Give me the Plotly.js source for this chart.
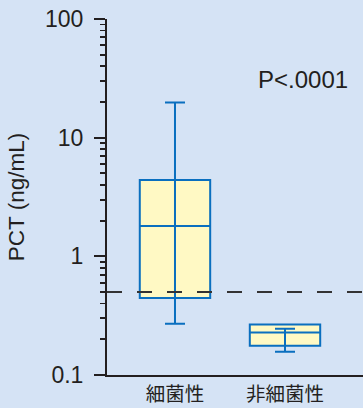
<!DOCTYPE html>
<html>
<head>
<meta charset="utf-8">
<script src="https://cdn.plot.ly/plotly-3.0.1.min.js"></script>
<style>html,body{margin:0;padding:0;background:#d5e3f5;}#chart{width:363px;height:408px;}</style>
</head>
<body>
<div id="chart"></div>
<script>
// ---- data ----
const categories = ['細菌性', '非細菌性'];
const lowerWhisker = [0.27, 0.157];
const q1Values = [0.445, 0.176];
const medianValues = [1.8, 0.228];
const q3Values = [4.4, 0.267];
const upperWhisker = [19.8, 0.245];
const cutoffValue = 0.5;
const pValueLabel = 'P<.0001';
const yTickVals = [0.1, 1, 10, 100];
const yTickText = ['0.1', '1', '10', '100'];
const yTitle = 'PCT (ng/mL)';

// ---- styles ----
const bg = '#d5e3f5';
const ink = '#231f20';
const blue = '#0a6fbf';
const boxFill = '#fff9c4';
const font = 'Liberation Sans, Arial, "Noto Sans CJK JP", sans-serif';
const xRange = [-0.618, 1.709];

const xPos = categories.map((c, i) => i);

const minorVals = [];
[0.1, 1, 10].forEach(d => { for (let k = 2; k <= 9; k++) minorVals.push(d * k); });

const boxTrace = {
  type: 'box',
  x: xPos,
  q1: q1Values,
  median: medianValues,
  q3: q3Values,
  lowerfence: q1Values,
  upperfence: q3Values,
  width: 0.64,
  whiskerwidth: 0,
  boxpoints: false,
  fillcolor: boxFill,
  line: {color: blue, width: 2},
  hoverinfo: 'skip',
  showlegend: false
};

const whiskerTrace = {
  type: 'scatter',
  mode: 'markers',
  x: xPos,
  y: medianValues,
  marker: {size: 1, opacity: 0},
  error_y: {
    type: 'data',
    symmetric: false,
    array: upperWhisker.map((v, i) => v - medianValues[i]),
    arrayminus: medianValues.map((v, i) => v - lowerWhisker[i]),
    color: blue,
    thickness: 2,
    width: 10
  },
  hoverinfo: 'skip',
  showlegend: false
};

const cutoffTrace = {
  type: 'scatter',
  mode: 'lines',
  x: xRange,
  y: [cutoffValue, cutoffValue],
  line: {color: '#333333', width: 2, dash: '15px,15px'},
  cliponaxis: false,
  hoverinfo: 'skip',
  showlegend: false
};

const layout = {
  width: 363,
  height: 408,
  margin: {l: 107, r: 0, t: 19, b: 33},
  paper_bgcolor: bg,
  plot_bgcolor: bg,
  font: {family: font, color: ink},
  showlegend: false,
  xaxis: {
    range: xRange,
    tickmode: 'array',
    tickvals: xPos,
    ticktext: categories,
    ticks: '',
    ticklabelstandoff: 1,
    tickfont: {size: 19.5, color: ink, family: '"Noto Sans CJK JP", sans-serif'},
    showline: true,
    linecolor: ink,
    linewidth: 2,
    showgrid: false,
    zeroline: false,
    fixedrange: true
  },
  yaxis: {
    type: 'log',
    range: [-1, 2],
    tickmode: 'array',
    tickvals: yTickVals,
    ticktext: yTickText,
    ticks: 'outside',
    ticklen: 11,
    tickwidth: 2,
    tickcolor: ink,
    ticklabelstandoff: 6,
    tickfont: {size: 23, color: ink},
    minor: {tickmode: 'array', tickvals: minorVals, ticks: 'outside', ticklen: 5, tickwidth: 1.8, tickcolor: ink, showgrid: false},
    showline: true,
    linecolor: ink,
    linewidth: 2,
    showgrid: false,
    zeroline: false,
    title: {text: yTitle, font: {size: 22.5, color: ink}, standoff: 14},
    fixedrange: true
  },
  annotations: [{
    text: pValueLabel,
    xref: 'paper', yref: 'paper',
    x: 0.764, y: 0.829,
    xanchor: 'center', yanchor: 'middle',
    showarrow: false,
    font: {size: 24, color: ink}
  }]
};

Plotly.newPlot('chart', [boxTrace, whiskerTrace, cutoffTrace], layout, {displayModeBar: false, staticPlot: true});
</script>
</body>
</html>
